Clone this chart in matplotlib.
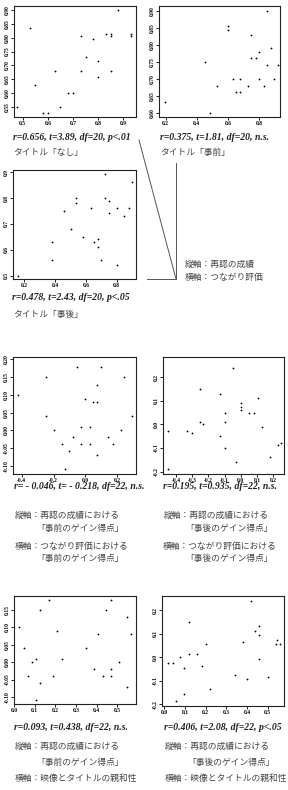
import matplotlib

matplotlib.use("Agg")
import matplotlib.pyplot as plt
from matplotlib.lines import Line2D
from matplotlib.ticker import MultipleLocator, FormatStrFormatter

plt.rcParams["axes.unicode_minus"] = False

W, H = 288, 790

# --- data ------------------------------------------------------------------
# title "nashi" (none)
nashi_x = [0.479, 0.53, 0.55, 0.58, 0.60, 0.63, 0.65, 0.68, 0.70, 0.73, 0.73,
           0.75, 0.78, 0.80, 0.80, 0.83, 0.85, 0.85, 0.85, 0.88, 0.93, 0.93]
nashi_y = [0.55, 0.835, 0.63, 0.53, 0.53, 0.68, 0.55, 0.60, 0.60, 0.805, 0.68,
           0.73, 0.795, 0.715, 0.66, 0.815, 0.815, 0.805, 0.68, 0.90, 0.815, 0.805]

# title "jizen" (before)
jizen_x = [0.196, 0.45, 0.485, 0.53, 0.60, 0.60, 0.63, 0.65, 0.68, 0.68, 0.73,
           0.75, 0.75, 0.78, 0.80, 0.80, 0.83, 0.85, 0.85, 0.88, 0.895, 0.92]
jizen_y = [0.63, 0.75, 0.60, 0.68, 0.855, 0.845, 0.70, 0.66, 0.70, 0.66, 0.68,
           0.83, 0.76, 0.76, 0.78, 0.70, 0.68, 0.90, 0.74, 0.79, 0.70, 0.74]

# title "jigo" (after)
jigo_x = [0.159, 0.383, 0.383, 0.455, 0.504, 0.534, 0.534, 0.58, 0.63, 0.65, 0.677,
          0.677, 0.697, 0.727, 0.727, 0.749, 0.749, 0.80, 0.80, 0.85, 0.88, 0.90]
jigo_y = [0.50, 0.631, 0.562, 0.751, 0.68, 0.80, 0.782, 0.651, 0.76, 0.632, 0.641,
          0.61, 0.562, 0.891, 0.80, 0.79, 0.741, 0.76, 0.541, 0.731, 0.76, 0.86]

# gain scores: pre
gain_pre_conn = [-0.249, 0.243, 0.072, -0.421, 0.0, 0.047, 0.075, -0.247, 0.294,
                 -0.197, -0.029, 0.030, -0.079, 0.226, -0.148, -0.029, 0.030, 0.145,
                 0.176, -0.10, 0.075, -0.128, -0.05, 0.10]
gain_pre_rec = [0.15, 0.15, 0.128, 0.10, 0.089, 0.079, 0.079, 0.041, 0.041, 0.0,
                0.009, 0.009, -0.019, 0.0, -0.039, -0.039, -0.039, -0.019, -0.039,
                -0.059, -0.069, -0.109, 0.178, 0.178]

# gain scores: post
gain_post_conn = [-0.25, -0.128, 0.109, 0.0, 0.0, 0.0, 0.05, 0.08, -0.10, -0.25,
                  -0.23, -0.10, 0.13, -0.45, -0.33, -0.30, -0.13, -0.10, 0.23, 0.25,
                  0.18, -0.03, -0.45, -0.05]
gain_post_rec = [0.15, 0.128, 0.11, 0.089, 0.072, 0.061, 0.049, 0.049, 0.049, 0.011,
                 0.001, 0.011, -0.01, -0.028, -0.028, -0.038, -0.05, -0.099, -0.088,
                 -0.078, -0.14, -0.158, -0.19, 0.24]

# affinity between video and title, against pre / post recognition gain
affinity_a = [0.168, 0.468, 0.128, 0.446, 0.548, 0.026, 0.209, 0.567, 0.406, 0.048,
              0.35, 0.085, 0.108, 0.23, 0.507, 0.388, 0.47, 0.067, 0.188, 0.428,
              0.47, 0.128, 0.548, 0.108]
affinity_pre_rec = [0.178, 0.178, 0.15, 0.15, 0.13, 0.10, 0.089, 0.08, 0.08, 0.04,
                    0.04, 0.0, 0.01, 0.01, 0.0, -0.019, -0.019, -0.04, -0.04, -0.04,
                    -0.04, -0.06, -0.07, -0.108]
affinity_b = [0.42, 0.117, 0.46, 0.44, 0.46, 0.38, 0.20, 0.544, 0.54, 0.56, 0.117,
              0.158, 0.077, 0.016, 0.039, 0.46, 0.18, 0.097, 0.34, 0.40, 0.50, 0.22,
              0.097, 0.056]
affinity_post_rec = [0.24, 0.15, 0.132, 0.112, 0.093, 0.063, 0.054, 0.072, 0.054,
                     0.054, 0.014, 0.014, 0.0, -0.027, -0.027, -0.01, -0.037, -0.048,
                     -0.077, -0.095, -0.086, -0.135, -0.155, -0.185]

fig = plt.figure(figsize=(W / 100, H / 100), dpi=100)

JP = ["Noto Sans CJK JP", "DejaVu Sans"]
JP_KW = dict(family=JP, fontsize=6.3, color="#444444")
STAT_KW = dict(family="Liberation Serif", fontsize=7, weight="bold", style="italic",
               color="#222222")


def scatter_box(l, t, r, b, x, y, xlim, ylim, xstep, ystep, xfmt, yfmt):
    ax = fig.add_axes([l / W, 1 - b / H, (r - l) / W, (b - t) / H])
    ax.plot(x, y, "o", ms=1.3, color="black", mew=0)
    ax.set_xlim(*xlim)
    ax.set_ylim(*ylim)
    ax.xaxis.set_major_locator(MultipleLocator(xstep))
    ax.yaxis.set_major_locator(MultipleLocator(ystep))
    ax.xaxis.set_major_formatter(FormatStrFormatter(xfmt))
    ax.yaxis.set_major_formatter(FormatStrFormatter(yfmt))
    ax.tick_params(direction="out", length=2, width=0.6, labelsize=4, pad=1)
    for lab in ax.get_xticklabels() + ax.get_yticklabels():
        lab.set_family("Liberation Serif")
        lab.set_weight("bold")
    for lab in ax.get_yticklabels():
        lab.set_rotation(90)
        lab.set_va("center")
    for sp in ax.spines.values():
        sp.set_linewidth(0.8)
        sp.set_color("#222222")
    return ax


def text(x, y, s, **kw):
    fig.text(x / W, 1 - y / H, s, ha="left", va="center", **kw)


def line(xs, ys):
    fig.add_artist(Line2D([v / W for v in xs], [1 - v / H for v in ys],
                          transform=fig.transFigure, lw=0.7, color="#555555"))


# row 1
scatter_box(14, 6, 136, 117, nashi_x, nashi_y, (0.466, 0.95), (0.514, 0.9145),
            0.1, 0.05, "%.1f", "%.2f")
text(13, 137, "r=0.656, t=3.89, df=20, p<.01", **STAT_KW)
text(13, 153, "タイトル「なし」", **JP_KW)

scatter_box(159, 6, 280, 117, jizen_x, jizen_y, (0.157, 0.935), (0.587, 0.915),
            0.2, 0.05, "%.1f", "%.2f")
text(160, 137, "r=0.375, t=1.81, df=20, n.s.", **STAT_KW)
text(160, 153, "タイトル「事前」", **JP_KW)

scatter_box(13, 170, 136, 279, jigo_x, jigo_y, (0.127, 0.925), (0.488, 0.908),
            0.2, 0.1, "%.1f", "%.1f")
text(12, 298, "r=0.478, t=2.43, df=20, p<.05", **STAT_KW)
text(13, 314, "タイトル「事後」", **JP_KW)

line([139, 176], [140, 279])
line([176, 176], [163, 279])
line([147, 176], [279, 279])
text(185, 264, "縦軸：再認の成績", **JP_KW)
text(185, 277, "横軸：つながり評価", **JP_KW)

# row 2
scatter_box(13, 357, 136, 474, gain_pre_conn, gain_pre_rec, (-0.455, 0.319),
            (-0.123, 0.207), 0.2, 0.05, "%.1f", "%.2f")
text(14, 487, "r= - 0.046, t= - 0.218, df=22, n.s.", **STAT_KW)
text(15, 515, "縦軸：再認の成績における", **JP_KW)
text(36, 528, "「事前のゲイン得点」", **JP_KW)
text(15, 546, "横軸：つながり評価における", **JP_KW)
text(36, 559, "「事前のゲイン得点」", **JP_KW)

scatter_box(163, 357, 284, 474, gain_post_conn, gain_post_rec, (-0.48, 0.267),
            (-0.21, 0.285), 0.1, 0.1, "%.1f", "%.1f")
text(163, 487, "r=0.195, t=0.935, df=22, n.s.", **STAT_KW)
text(164, 515, "縦軸：再認の成績における", **JP_KW)
text(185, 528, "「事後のゲイン得点」", **JP_KW)
text(163, 546, "横軸：つながり評価における", **JP_KW)
text(185, 559, "「事後のゲイン得点」", **JP_KW)

# row 3
scatter_box(14, 596, 136, 704, affinity_a, affinity_pre_rec, (0.0, 0.59),
            (-0.12, 0.19), 0.1, 0.05, "%.1f", "%.2f")
text(14, 727, "r=0.093, t=0.438, df=22, n.s.", **STAT_KW)
text(15, 746, "縦軸：再認の成績における", **JP_KW)
text(36, 762, "「事前のゲイン得点」", **JP_KW)
text(15, 778, "横軸：映像とタイトルの親和性", **JP_KW)

scatter_box(162, 596, 284, 706, affinity_b, affinity_post_rec, (-0.012, 0.58),
            (-0.208, 0.26), 0.1, 0.1, "%.1f", "%.1f")
text(164, 727, "r=0.406, t=2.08, df=22, p<.05", **STAT_KW)
text(165, 746, "縦軸：再認の成績における", **JP_KW)
text(187, 762, "「事後のゲイン得点」", **JP_KW)
text(165, 778, "横軸：映像とタイトルの親和性", **JP_KW)

fig.savefig("out.png", dpi=100)
plt.close(fig)
